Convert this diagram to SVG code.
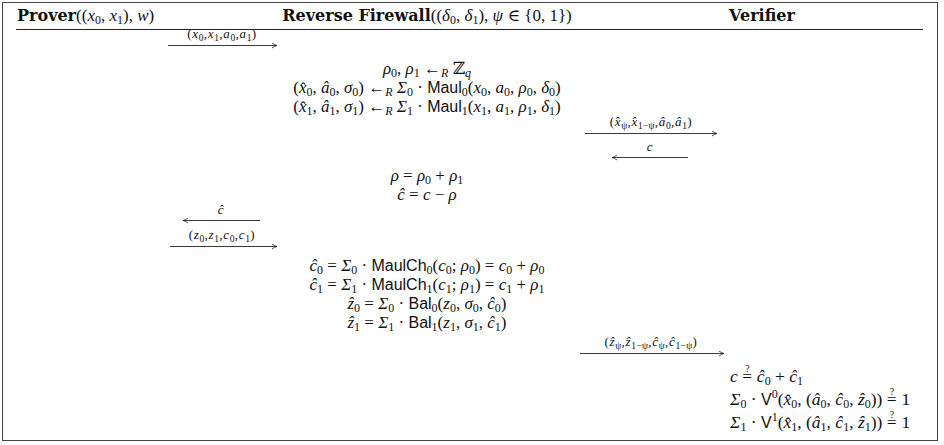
<svg xmlns="http://www.w3.org/2000/svg" width="944" height="445" viewBox="0 0 944 445">
<style>
text{font-family:"Liberation Serif","DejaVu Serif",serif;font-size:17px;fill:#111}
.h{font-size:17px}
.b{font-family:"DejaVu Serif","Liberation Serif",serif;font-weight:bold;font-size:16px}
.i{font-style:italic}
.sf{font-family:"Liberation Sans","DejaVu Sans",sans-serif;font-size:16px}
.s{font-size:12px;baseline-shift:-3px}
.p{font-size:12px;baseline-shift:7px}
.q{font-size:10px}
.v{font-size:17.5px}
.lbl{font-size:13px;letter-spacing:0.7px}
.lbl .s{font-size:9.5px;baseline-shift:-2.5px;letter-spacing:0.3px}
.c{text-anchor:middle}
.arr{stroke:#222;stroke-width:0.9;fill:none}
</style>
<defs>
<marker id="ah" viewBox="0 0 6 6" refX="5.5" refY="3" markerWidth="6" markerHeight="6" markerUnits="userSpaceOnUse" orient="auto">
<path d="M0.5,0.5 Q3,2.5 5.5,3 Q3,3.5 0.5,5.5" fill="none" stroke="#222" stroke-width="0.8"/>
</marker>
</defs>
<rect x="2.5" y="2.5" width="935" height="438" fill="#fff" stroke="#444" stroke-width="1"/>
<line x1="16" y1="29.5" x2="923" y2="29.5" stroke="#222" stroke-width="1"/>

<g id="prover">
<text x="17" y="21" class="h"><tspan class="b">Prover</tspan>((<tspan class="i">x</tspan><tspan class="s">0</tspan>, <tspan class="i">x</tspan><tspan class="s">1</tspan>), <tspan class="i">w</tspan>)</text>
</g>

<g id="firewall">
<text x="427" y="21" class="c h"><tspan class="b">Reverse Firewall</tspan>((<tspan class="i">δ</tspan><tspan class="s">0</tspan>, <tspan class="i">δ</tspan><tspan class="s">1</tspan>), <tspan class="i">ψ</tspan> ∈ {0, 1})</text>
<text x="427" y="74" class="c"><tspan class="i">ρ</tspan><tspan class="s">0</tspan>, <tspan class="i">ρ</tspan><tspan class="s">1</tspan> ←<tspan class="s i">R</tspan> ℤ<tspan class="s i">q</tspan></text>
<text x="427" y="93" class="c">(<tspan class="i">x̂</tspan><tspan class="s">0</tspan>, <tspan class="i">â</tspan><tspan class="s">0</tspan>, <tspan class="i">σ</tspan><tspan class="s">0</tspan>) ←<tspan class="s i">R</tspan> <tspan class="i">Σ</tspan><tspan class="s">0</tspan> · <tspan class="sf">Maul</tspan><tspan class="s">0</tspan>(<tspan class="i">x</tspan><tspan class="s">0</tspan>, <tspan class="i">a</tspan><tspan class="s">0</tspan>, <tspan class="i">ρ</tspan><tspan class="s">0</tspan>, <tspan class="i">δ</tspan><tspan class="s">0</tspan>)</text>
<text x="427" y="112" class="c">(<tspan class="i">x̂</tspan><tspan class="s">1</tspan>, <tspan class="i">â</tspan><tspan class="s">1</tspan>, <tspan class="i">σ</tspan><tspan class="s">1</tspan>) ←<tspan class="s i">R</tspan> <tspan class="i">Σ</tspan><tspan class="s">1</tspan> · <tspan class="sf">Maul</tspan><tspan class="s">1</tspan>(<tspan class="i">x</tspan><tspan class="s">1</tspan>, <tspan class="i">a</tspan><tspan class="s">1</tspan>, <tspan class="i">ρ</tspan><tspan class="s">1</tspan>, <tspan class="i">δ</tspan><tspan class="s">1</tspan>)</text>
<text x="427" y="181" class="c"><tspan class="i">ρ</tspan> = <tspan class="i">ρ</tspan><tspan class="s">0</tspan> + <tspan class="i">ρ</tspan><tspan class="s">1</tspan></text>
<text x="427" y="200" class="c"><tspan class="i">ĉ</tspan> = <tspan class="i">c</tspan> − <tspan class="i">ρ</tspan></text>
<text x="427" y="271" class="c"><tspan class="i">ĉ</tspan><tspan class="s">0</tspan> = <tspan class="i">Σ</tspan><tspan class="s">0</tspan> · <tspan class="sf">MaulCh</tspan><tspan class="s">0</tspan>(<tspan class="i">c</tspan><tspan class="s">0</tspan>; <tspan class="i">ρ</tspan><tspan class="s">0</tspan>) = <tspan class="i">c</tspan><tspan class="s">0</tspan> + <tspan class="i">ρ</tspan><tspan class="s">0</tspan></text>
<text x="427" y="290" class="c"><tspan class="i">ĉ</tspan><tspan class="s">1</tspan> = <tspan class="i">Σ</tspan><tspan class="s">1</tspan> · <tspan class="sf">MaulCh</tspan><tspan class="s">1</tspan>(<tspan class="i">c</tspan><tspan class="s">1</tspan>; <tspan class="i">ρ</tspan><tspan class="s">1</tspan>) = <tspan class="i">c</tspan><tspan class="s">1</tspan> + <tspan class="i">ρ</tspan><tspan class="s">1</tspan></text>
<text x="427" y="309" class="c"><tspan class="i">ẑ</tspan><tspan class="s">0</tspan> = <tspan class="i">Σ</tspan><tspan class="s">0</tspan> · <tspan class="sf">Bal</tspan><tspan class="s">0</tspan>(<tspan class="i">z</tspan><tspan class="s">0</tspan>, <tspan class="i">σ</tspan><tspan class="s">0</tspan>, <tspan class="i">ĉ</tspan><tspan class="s">0</tspan>)</text>
<text x="427" y="328" class="c"><tspan class="i">ẑ</tspan><tspan class="s">1</tspan> = <tspan class="i">Σ</tspan><tspan class="s">1</tspan> · <tspan class="sf">Bal</tspan><tspan class="s">1</tspan>(<tspan class="i">z</tspan><tspan class="s">1</tspan>, <tspan class="i">σ</tspan><tspan class="s">1</tspan>, <tspan class="i">ĉ</tspan><tspan class="s">1</tspan>)</text>
</g>

<g id="verifier">
<text x="762" y="21" class="c"><tspan class="b">Verifier</tspan></text>
<text x="730" y="382" class="v"><tspan class="i">c</tspan> =<tspan class="q" dx="-6.9" dy="-10">?</tspan><tspan dx="2.9" dy="10"> <tspan class="i">ĉ</tspan></tspan><tspan class="s">0</tspan> + <tspan class="i">ĉ</tspan><tspan class="s">1</tspan></text>
<text x="730" y="405" class="v"><tspan class="i">Σ</tspan><tspan class="s">0</tspan> · <tspan class="sf">V</tspan><tspan class="p">0</tspan>(<tspan class="i">x̂</tspan><tspan class="s">0</tspan>, (<tspan class="i">â</tspan><tspan class="s">0</tspan>, <tspan class="i">ĉ</tspan><tspan class="s">0</tspan>, <tspan class="i">ẑ</tspan><tspan class="s">0</tspan>)) =<tspan class="q" dx="-6.9" dy="-10">?</tspan><tspan dx="2.9" dy="10"> 1</tspan></text>
<text x="730" y="428" class="v"><tspan class="i">Σ</tspan><tspan class="s">1</tspan> · <tspan class="sf">V</tspan><tspan class="p">1</tspan>(<tspan class="i">x̂</tspan><tspan class="s">1</tspan>, (<tspan class="i">â</tspan><tspan class="s">1</tspan>, <tspan class="i">ĉ</tspan><tspan class="s">1</tspan>, <tspan class="i">ẑ</tspan><tspan class="s">1</tspan>)) =<tspan class="q" dx="-6.9" dy="-10">?</tspan><tspan dx="2.9" dy="10"> 1</tspan></text>
</g>

<g id="connectors">
<line class="arr" x1="168" y1="45.5" x2="277" y2="45.5" marker-end="url(#ah)"/>
<text class="lbl c" x="222" y="38">(<tspan class="i">x</tspan><tspan class="s">0</tspan>,<tspan class="i">x</tspan><tspan class="s">1</tspan>,<tspan class="i">a</tspan><tspan class="s">0</tspan>,<tspan class="i">a</tspan><tspan class="s">1</tspan>)</text>
<line class="arr" x1="585" y1="133.5" x2="717" y2="133.5" marker-end="url(#ah)"/>
<text class="lbl c" x="651" y="126">(<tspan class="i">x̂</tspan><tspan class="s">ψ</tspan>,<tspan class="i">x̂</tspan><tspan class="s">1−ψ</tspan>,<tspan class="i">â</tspan><tspan class="s">0</tspan>,<tspan class="i">â</tspan><tspan class="s">1</tspan>)</text>
<line class="arr" x1="688" y1="157.5" x2="612" y2="157.5" marker-end="url(#ah)"/>
<text class="lbl c i" x="650" y="151">c</text>
<line class="arr" x1="260" y1="220.5" x2="183" y2="220.5" marker-end="url(#ah)"/>
<text class="lbl c i" x="221" y="214">ĉ</text>
<line class="arr" x1="170" y1="246.5" x2="277" y2="246.5" marker-end="url(#ah)"/>
<text class="lbl c" x="222" y="239">(<tspan class="i">z</tspan><tspan class="s">0</tspan>,<tspan class="i">z</tspan><tspan class="s">1</tspan>,<tspan class="i">c</tspan><tspan class="s">0</tspan>,<tspan class="i">c</tspan><tspan class="s">1</tspan>)</text>
<line class="arr" x1="580" y1="353.5" x2="724" y2="353.5" marker-end="url(#ah)"/>
<text class="lbl c" x="651" y="346">(<tspan class="i">ẑ</tspan><tspan class="s">ψ</tspan>,<tspan class="i">ẑ</tspan><tspan class="s">1−ψ</tspan>,<tspan class="i">ĉ</tspan><tspan class="s">ψ</tspan>,<tspan class="i">ĉ</tspan><tspan class="s">1−ψ</tspan>)</text>
</g>
</svg>
